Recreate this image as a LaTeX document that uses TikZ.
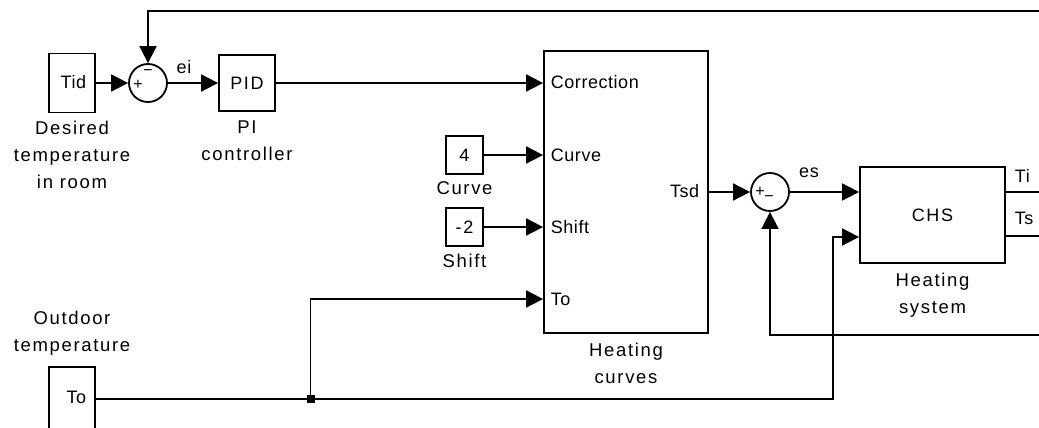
\documentclass[tikz,border=0pt]{standalone}
\usepackage{fontspec}
\setmainfont{Liberation Sans}
\newfontfamily\capfont[LetterSpace=9]{Liberation Sans}
\newfontfamily\portfont[LetterSpace=3]{Liberation Sans}
\usepackage{tikz}
\usetikzlibrary{arrows.meta}

\begin{document}
\begin{tikzpicture}[x=1pt,y=-1pt,line width=1.8pt,>={Triangle[length=17pt,width=17pt]},
  block/.style={draw,rectangle,inner sep=0pt,font=\capfont\fontsize{18}{20}\selectfont},
  sumnode/.style={draw,circle,minimum size=38pt,inner sep=0pt},
  caption/.style={align=center,inner sep=0pt,font=\capfont\fontsize{18.5}{27}\selectfont},
  port/.style={inner sep=0pt,font=\portfont\fontsize{18}{20}\selectfont},
  sign/.style={inner sep=0pt,font=\fontsize{16}{16}\selectfont},
  junc/.style={fill,rectangle,minimum size=8pt,inner sep=0pt}]
\useasboundingbox (0,0) rectangle (1039,428);
\node[block,minimum width=46pt,minimum height=59pt] (tid) at (72,83) {};
\node[port,anchor=east] (tidlbl) at (87,82) {Tid};
\node[caption,below=7pt] (tidcap) at (tid.south) {Desired\\temperature\\in room};
\node[sumnode] (sum1) at (148,83) {};
\node[sign] (s1p) at (138,85) {+};
\node[sign] (s1m) at (148,73) {−};
\node[port] (ei) at (184,67) {ei};
\node[block,minimum width=56pt,minimum height=56pt] (pid) at (247,83) {PID};
\node[caption,below=8pt] (pidcap) at (pid.south) {PI\\controller};
\node[block,minimum width=164pt,minimum height=282pt] (hc) at (626,192) {};
\node[port,anchor=west] (pcorr) at (550,82) {Correction};
\node[port,anchor=west] (pcurve) at (550,155) {Curve};
\node[port,anchor=west] (pshift) at (550,227) {Shift};
\node[port,anchor=west] (pto) at (550,299) {To};
\node[port,anchor=east] (ptsd) at (700,191) {Tsd};
\node[caption,below=8pt] (hccap) at (hc.south) {Heating\\curves};
\node[block,minimum width=37pt,minimum height=38pt] (curve) at (464.5,155) {4};
\node[caption,below=6pt] (curvecap) at (curve.south) {Curve};
\node[block,minimum width=37pt,minimum height=38pt] (shift) at (464.5,227) {-2};
\node[caption,below=6pt] (shiftcap) at (shift.south) {Shift};
\node[sumnode] (sum2) at (770,192) {};
\node[sign] (s2p) at (760,192) {+};
\node[sign] (s2m) at (769,199) {−};
\node[port] (es) at (809,173) {es};
\node[block,minimum width=145pt,minimum height=96pt] (chs) at (932.5,215) {CHS};
\node[caption,below=8pt] (chscap) at (chs.south) {Heating\\system};
\node[port,anchor=west] (pti) at (1014,176) {Ti};
\node[port,anchor=west] (pts) at (1014,218) {Ts};
\node[block,minimum width=46pt,minimum height=110pt] (to) at (72,422) {};
\node[port,anchor=east] (tolbl) at (87,397) {To};
\node[caption,above=10pt] (tocap) at (to.north) {Outdoor\\temperature};
\node[junc] (jct) at (310.5,399) {};
\coordinate (toout) at (to.east |- 0,399);
\coordinate (tobend) at (833,399);
\coordinate (chsin2) at (chs.west |- 0,237);
\coordinate (hcin4) at (hc.west |- 0,299);
\coordinate (fbi) at (1039,11);
\coordinate (fbs) at (1039,335);
\coordinate (tiout) at (1039,192);
\coordinate (tsout) at (1039,236);
\draw[->] (tid.east) -- (sum1.west);
\draw[->] (sum1.east) -- (pid.west);
\draw[->] (pid.east) -- (pid.east -| hc.west);
\draw[->] (curve.east) -- (curve.east -| hc.west);
\draw[->] (shift.east) -- (shift.east -| hc.west);
\draw[->] (jct.center) |- (hcin4);
\draw[->] (toout) -- (tobend) |- (chsin2);
\draw[->] (hc.east) -- (sum2.west);
\draw[->] (sum2.east) -- (sum2.east -| chs.west);
\draw[->] (fbi) -| (sum1.north);
\draw[->] (fbs) -| (sum2.south);
\draw (chs.east |- tiout) -- (tiout);
\draw (chs.east |- tsout) -- (tsout);
\end{tikzpicture}
\end{document}
